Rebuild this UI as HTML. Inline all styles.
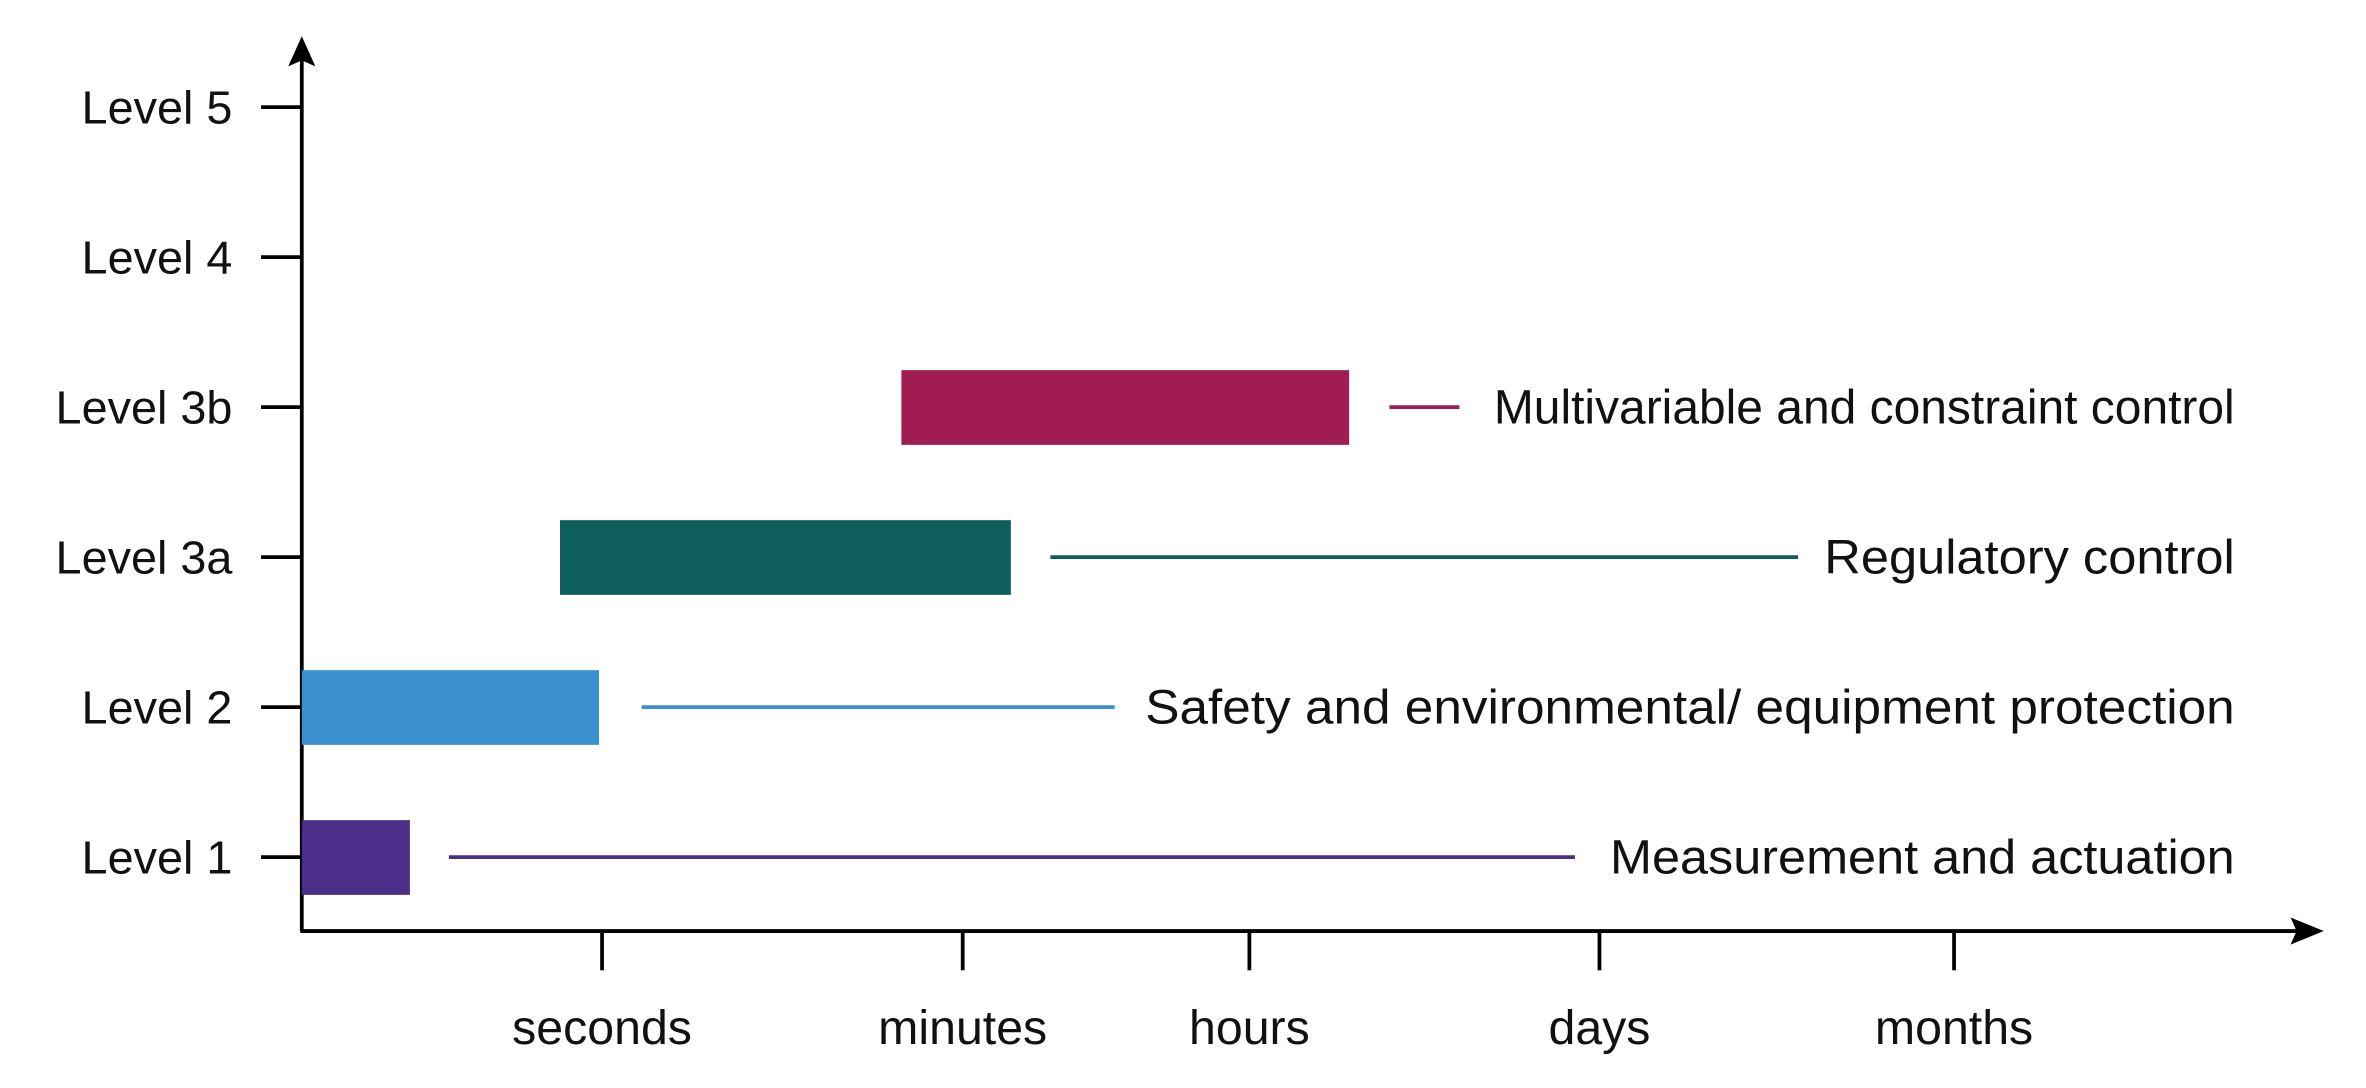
<!DOCTYPE html>
<html><head><meta charset="utf-8"><style>
html,body{margin:0;padding:0;background:#fff;}
svg{display:block;}
text{font-family:"Liberation Sans",sans-serif;fill:#111;}
</style></head><body>
<svg id="chart" width="2366" height="1088" viewBox="0 0 1568 721" preserveAspectRatio="none" xmlns="http://www.w3.org/2000/svg">
<g id="axes"></g>
<g id="marks"></g>
</svg>
<script>
const levels = ["Level 1","Level 2","Level 3a","Level 3b","Level 4","Level 5"];
const timeTicks = ["seconds","minutes","hours","days","months"];
const barStart = [0, 0, 0.86, 1.83];
const barEnd = [0.36, 0.99, 2.168, 3.285];
const lineStart = [0.49, 1.11, 2.306, 3.40];
const lineEnd = [3.93, 2.53, 4.56, 3.60];
const descriptions = ["Measurement and actuation","Safety and environmental/ equipment protection","Regulatory control","Multivariable and constraint control"];
const colors = ["#4b2e87","#3a8fcd","#0f5e5e","#a01c52"];

const NS="http://www.w3.org/2000/svg";
const axisX=200, axisY=617;
const tickPos=[200,399,638,828,1060,1295];
function xs(v){const i=Math.min(Math.floor(v),4);const f=v-i;return tickPos[i]+f*(tickPos[i+1]-tickPos[i]);}
function ys(i){return 568-i*99.4;}
function mk(t,a,p){const e=document.createElementNS(NS,t);for(const k in a)e.setAttribute(k,a[k]);p.appendChild(e);return e;}
const ax=document.getElementById('axes'), mg=document.getElementById('marks');

let e;
e=mk('line',{x1:axisX,y1:axisY,x2:axisX,y2:40,stroke:'#000','stroke-width':2.5},ax);


e=mk('polygon',{points:'200,24 191,44 200,40 209,44',fill:'#000'},ax);


e=mk('line',{x1:axisX-1,y1:axisY,x2:1524,y2:axisY,stroke:'#000','stroke-width':2.5},ax);


e=mk('polygon',{points:'1540,617 1518,608 1522,617 1518,626',fill:'#000'},ax);



levels.forEach((l,i)=>{
  const y=ys(i);
  let t=mk('line',{x1:173,y1:y,x2:axisX,y2:y,stroke:'#000','stroke-width':2.5},ax);
  
  
  let tx=mk('text',{x:154,y:y+11,'text-anchor':'end','font-size':31},ax);
  tx.textContent=l;
  
  
});
timeTicks.forEach((l,i)=>{
  const x=xs(i+1);
  let t=mk('line',{x1:x,y1:axisY,x2:x,y2:643,stroke:'#000','stroke-width':2.5},ax);
  
  
  let tx=mk('text',{x:x,y:692,'text-anchor':'middle','font-size':32},ax);
  tx.textContent=l;
  
  
});
const textW=[414,722,272,491];
descriptions.forEach((d,i)=>{
  const y=ys(i);
  let b=mk('rect',{x:xs(barStart[i]),y:y-24.5,width:xs(barEnd[i])-xs(barStart[i]),height:49.5,fill:colors[i]},mg);
  
  
  let ln=mk('line',{x1:xs(lineStart[i]),y1:y,x2:xs(lineEnd[i]),y2:y,stroke:colors[i],'stroke-width':2.5},mg);
  
  
  let tx=mk('text',{x:1481-textW[i],y:y+11,'font-size':32,textLength:textW[i],lengthAdjust:'spacingAndGlyphs'},mg);
  tx.textContent=d;
  
  
});
</script>
</body></html>
